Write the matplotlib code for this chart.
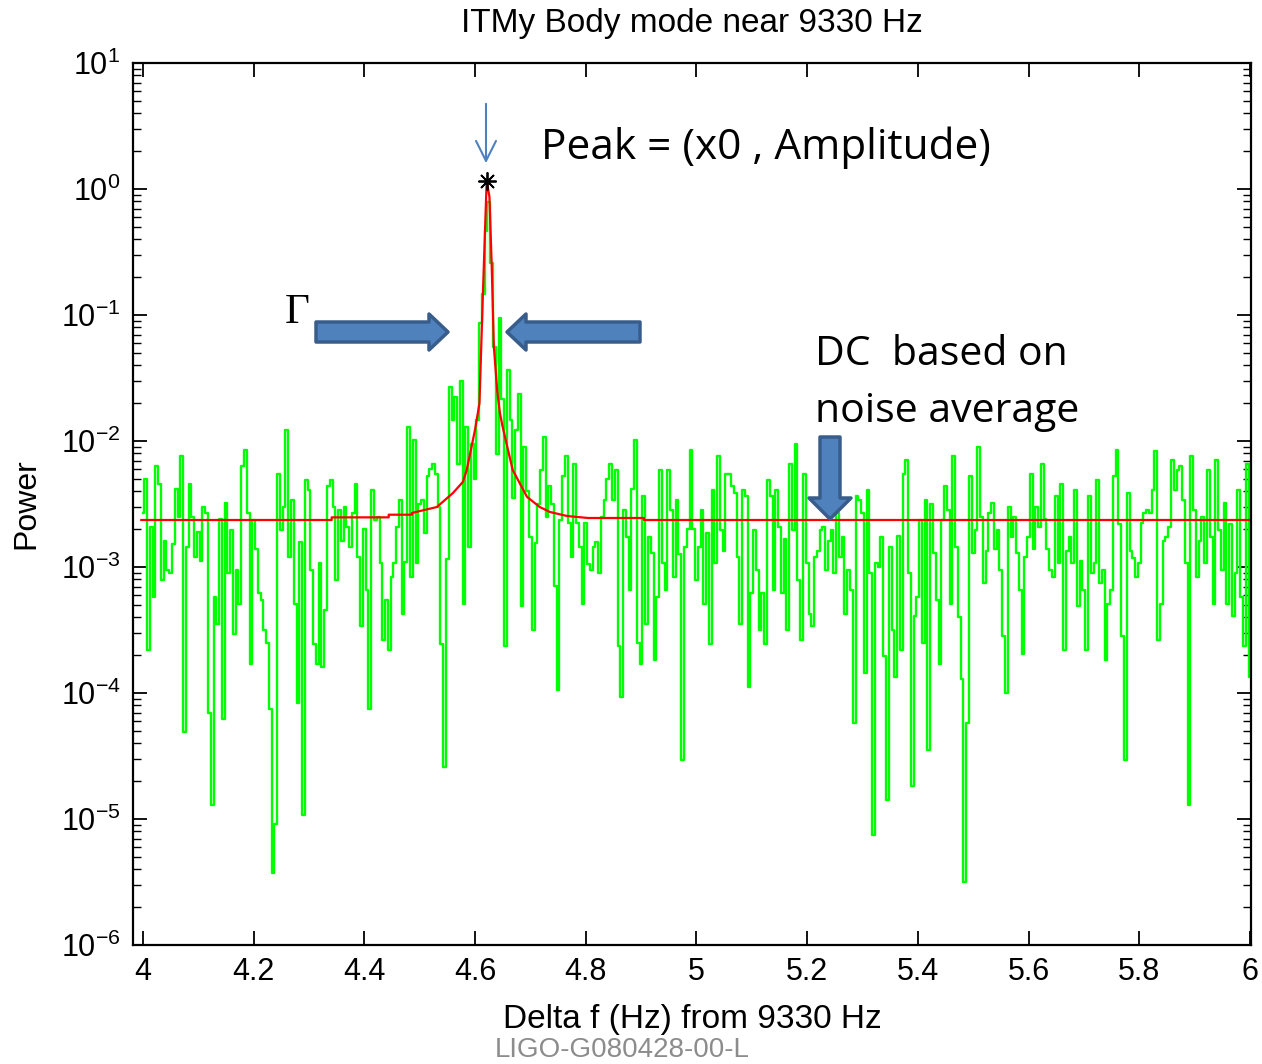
import numpy as np
import matplotlib
matplotlib.use('Agg')
import matplotlib.pyplot as plt
from matplotlib.patches import Polygon
from matplotlib.ticker import LogLocator, NullFormatter

# ---- data (log10 of power), 0.005 Hz bins from 4.0 to 6.0 ----
green_log_rows = [
    [-2.57, -2.30, -3.66, -2.68, -3.24, -2.20, -2.34, -3.10, -2.79, -3.02, -3.05, -2.82, -2.38, -2.60, -2.12, -4.31, -2.84, -2.34, -2.60, -2.92],
    [-2.72, -2.95, -2.52, -2.57, -4.16, -4.89, -3.24, -3.45, -2.62, -4.21, -2.49, -3.05, -2.71, -3.53, -3.02, -3.29, -2.20, -2.07, -2.57, -3.77],
    [-2.63, -2.86, -3.21, -3.26, -3.50, -3.60, -4.13, -5.43, -5.04, -2.26, -2.71, -2.52, -1.91, -2.92, -2.47, -3.29, -4.08, -2.80, -4.97, -2.31],
    [-2.39, -3.02, -3.61, -3.77, -2.97, -3.79, -3.34, -2.36, -2.31, -2.52, -3.10, -2.55, -2.79, -2.52, -2.68, -2.84, -2.57, -2.34, -2.92, -3.47],
    [-2.70, -3.18, -4.13, -2.39, -2.63, -2.60, -2.97, -3.58, -3.26, -3.66, -3.08, -2.97, -2.68, -2.47, -3.37, -2.96, -1.89, -3.08, -1.99, -2.97],
    [-2.50, -2.47, -2.73, -2.28, -2.22, -2.18, -2.26, -2.52, -3.61, -4.59, -2.94, -1.57, -1.83, -1.65, -2.18, -1.52, -3.29, -1.89, -2.84, -2.02],
    [-2.30, -1.83, -1.06, -0.83, -0.33, -0.10, -0.59, -1.25, -2.10, -1.02, -1.67, -3.63, -1.44, -1.83, -2.45, -1.91, -1.63, -3.31, -2.05, -2.40],
    [-2.76, -3.50, -2.81, -2.50, -2.23, -1.97, -2.60, -2.36, -2.50, -3.15, -3.98, -2.63, -2.28, -2.12, -2.65, -2.92, -2.18, -2.65, -2.84, -3.29],
    [-2.65, -2.98, -3.02, -2.84, -2.80, -3.05, -2.60, -2.47, -2.30, -2.18, -2.47, -2.23, -3.63, -4.03, -2.55, -2.76, -3.18, -2.38, -1.99, -3.60],
    [-3.77, -2.44, -3.45, -2.76, -2.89, -3.74, -3.24, -2.23, -2.97, -3.18, -2.23, -2.55, -3.08, -2.47, -2.90, -4.53, -2.84, -2.70, -2.07, -2.70],
    [-3.10, -2.84, -2.55, -3.29, -2.73, -3.61, -2.39, -2.97, -2.12, -2.71, -2.87, -2.26, -2.26, -2.36, -2.41, -2.92, -3.45, -2.39, -2.44, -3.95],
    [-3.21, -2.71, -3.02, -3.50, -3.21, -3.61, -2.31, -2.44, -3.18, -2.39, -2.68, -3.21, -2.78, -3.50, -2.18, -2.71, -2.02, -3.10, -3.58, -2.26],
    [-2.97, -3.37, -3.47, -2.92, -2.87, -2.71, -2.68, -3.02, -2.79, -2.71, -3.05, -2.57, -2.92, -2.76, -3.37, -3.02, -3.18, -4.24, -2.44, -2.47],
    [-2.57, -3.84, -2.39, -3.05, -5.13, -2.97, -3.00, -2.76, -3.71, -4.85, -2.84, -3.50, -3.87, -2.75, -3.66, -2.26, -2.15, -3.05, -4.74, -3.39],
    [-3.24, -2.63, -3.60, -2.47, -4.45, -2.50, -2.89, -3.26, -3.77, -2.63, -2.36, -2.55, -3.29, -2.12, -2.84, -3.40, -3.89, -5.50, -4.24, -2.28],
    [-2.89, -2.71, -2.05, -2.60, -3.13, -2.87, -2.57, -2.49, -2.86, -2.71, -3.02, -3.55, -4.00, -2.52, -2.76, -2.60, -2.89, -3.18, -3.69, -2.92],
    [-2.76, -2.26, -2.86, -2.52, -2.68, -2.18, -2.62, -2.86, -3.02, -3.08, -2.44, -2.97, -2.34, -3.66, -2.87, -2.76, -2.97, -2.39, -3.31, -2.95],
    [-3.18, -3.66, -2.44, -3.05, -2.97, -2.31, -3.13, -3.02, -3.74, -3.29, -3.18, -2.28, -2.07, -2.66, -3.55, -4.53, -2.41, -2.87, -2.93, -3.08],
    [-2.97, -2.65, -2.57, -2.55, -2.57, -2.39, -2.08, -3.58, -3.29, -2.79, -2.76, -2.68, -2.15, -2.39, -2.23, -2.20, -2.47, -2.97, -4.89, -2.12],
    [-2.55, -3.08, -2.79, -2.60, -2.97, -2.23, -2.76, -3.29, -2.15, -2.71, -3.02, -2.49, -3.29, -2.66, -3.39, -3.05, -2.39, -3.24, -3.63, -2.18],
]
green_log_last = [-3.87]
f_start, f_stop = 4.0, 6.0

# Lorentzian fit (red)
fit_freq = [3.997, 4.341, 4.341, 4.444, 4.444, 4.486, 4.486, 4.531, 4.560, 4.578, 4.585,
            4.600, 4.608, 4.614, 4.621, 4.626, 4.630, 4.634, 4.640, 4.645, 4.650, 4.668,
            4.694, 4.717, 4.735, 4.766, 4.804, 4.905, 4.905, 6.0]
fit_log = [-2.627, -2.627, -2.606, -2.606, -2.585, -2.585, -2.571, -2.524, -2.413, -2.325, -2.230,
           -1.91, -1.70, -0.86, 0.063, -0.06, -0.59, -1.25, -1.60, -1.78, -1.89, -2.23,
           -2.444, -2.524, -2.563, -2.595, -2.611, -2.611, -2.627, -2.627]

peak_x = 4.621
peak_amp = 1.156

x_ticks = [4, 4.2, 4.4, 4.6, 4.8, 5, 5.2, 5.4, 5.6, 5.8, 6]
x_tick_labels = ['4', '4.2', '4.4', '4.6', '4.8', '5', '5.2', '5.4', '5.6', '5.8', '6']
y_ticks = [1e-6, 1e-5, 1e-4, 1e-3, 1e-2, 1e-1, 1e0, 1e1]

# ---- figure ----
W, H = 1262, 1064
plt.rcParams['font.family'] = ['Liberation Sans Narrow', 'Liberation Sans', 'DejaVu Sans']
plt.rcParams['axes.unicode_minus'] = False

def fx(px):
    return px / W

def fy(py):
    return 1 - py / H

green_log = np.concatenate([np.ravel(green_log_rows), green_log_last])
green_freq = np.linspace(f_start, f_stop, len(green_log))
green_pow = 10.0 ** green_log
fit_pow = 10.0 ** np.array(fit_log)

fig = plt.figure(figsize=(W / 100, H / 100), dpi=100)
ax = fig.add_axes([fx(133), fy(945), (1251 - 133) / W, (945 - 63) / H])

ax.plot(green_freq, green_pow, color='#00ff00', lw=1.7, drawstyle='steps-mid')
ax.plot(fit_freq, fit_pow, color='#ff0000', lw=1.6)
ax.plot([peak_x], [peak_amp], marker=(8, 2, 0), color='black', ms=13, mew=1.3)

ax.set_yscale('log')
ax.set_xlim(3.982, 6.002)
ax.set_ylim(1e-6, 1e1)
ax.set_yticks(y_ticks)
ax.yaxis.set_minor_locator(LogLocator(base=10, subs=np.arange(2, 10), numticks=20))
ax.yaxis.set_minor_formatter(NullFormatter())
ax.set_xticks(x_ticks)
ax.set_xticklabels(x_tick_labels)
ax.tick_params(which='major', direction='in', length=10, width=1.3, top=True, right=True,
               labelsize=22, pad=9, colors='black')
ax.tick_params(which='minor', direction='in', length=6, width=1.0, top=True, right=True)
for s in ax.spines.values():
    s.set_linewidth(1.6)

ax.set_title('ITMy Body mode near 9330 Hz', fontsize=24, pad=22)
ax.set_xlabel('Delta f (Hz) from 9330 Hz', fontsize=24, labelpad=12)
ax.set_ylabel('Power', fontsize=23, labelpad=14)

# ---- slide annotations ----
blue = '#4f81bd'
edge = '#385d8a'

def h_arrow(tail, tip, yc, half_shaft=10, half_head=18, head_len=19):
    d = 1 if tip > tail else -1
    base = tip - d * head_len
    pts = [(tail, yc - half_shaft), (base, yc - half_shaft), (base, yc - half_head), (tip, yc),
           (base, yc + half_head), (base, yc + half_shaft), (tail, yc + half_shaft)]
    return [(fx(px), fy(py)) for px, py in pts]

def v_arrow(xc, tail, tip, half_shaft=10, half_head=21, head_len=21):
    base = tip - head_len
    pts = [(xc - half_shaft, tail), (xc - half_shaft, base), (xc - half_head, base), (xc, tip),
           (xc + half_head, base), (xc + half_shaft, base), (xc + half_shaft, tail)]
    return [(fx(px), fy(py)) for px, py in pts]

for verts in [h_arrow(316, 448, 332), h_arrow(640, 507, 332), v_arrow(830, 437, 519)]:
    fig.patches.append(Polygon(verts, closed=True, facecolor=blue, edgecolor=edge, lw=2.5,
                               transform=fig.transFigure, figure=fig, joinstyle='round'))

ax.annotate('', xy=(fx(486), fy(166)), xytext=(fx(486), fy(101)),
            xycoords='figure fraction', textcoords='figure fraction',
            arrowprops=dict(arrowstyle='->', color=blue, lw=1.5, mutation_scale=36))

anno_font = ['Open Sans', 'DejaVu Sans']
fig.text(fx(541), fy(148), 'Peak = (x0 , Amplitude)', fontsize=30.5, family=anno_font,
         ha='left', va='center')
fig.text(fx(815), fy(355), 'DC  based on', fontsize=29.5, family=anno_font, ha='left', va='center')
fig.text(fx(815), fy(412), 'noise average', fontsize=29.5, family=anno_font, ha='left', va='center')
fig.text(fx(297), fy(313), '\u0393', fontsize=31, family=['Liberation Serif', 'DejaVu Serif'],
         ha='center', va='center')
fig.text(fx(622), fy(1050), 'LIGO-G080428-00-L', fontsize=20, color='#8c8c8c',
         ha='center', va='center')

fig.savefig('out.png', dpi=100)
